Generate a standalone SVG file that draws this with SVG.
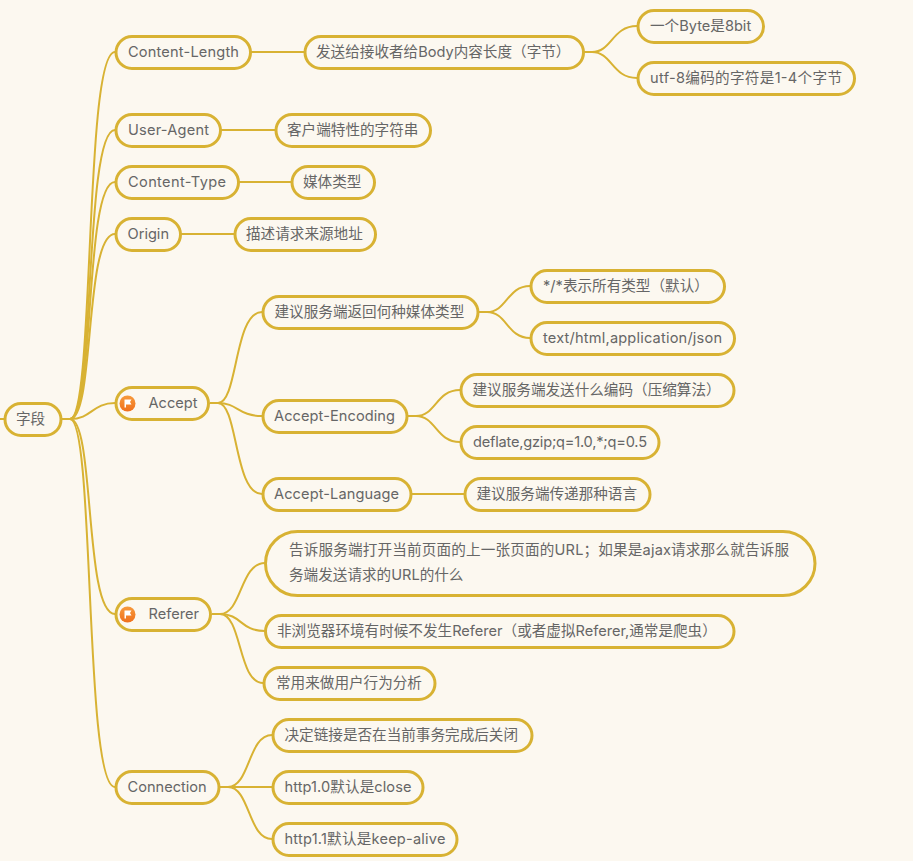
<svg xmlns="http://www.w3.org/2000/svg" width="913" height="861" viewBox="0 0 913 861">
<defs>
<linearGradient id="flag" x1="0" y1="0" x2="0" y2="1"><stop offset="0" stop-color="#f79a3c"/><stop offset="1" stop-color="#f0701c"/></linearGradient>
</defs>
<style>
.n{fill:#fcf8f0;stroke:#d8b233;stroke-width:3}
.c{fill:none;stroke:#d8b233;stroke-width:2}
text{font-family:"Inter","Noto Sans CJK SC",sans-serif;font-size:14.6px;fill:#666;dominant-baseline:central}
</style>
<rect width="913" height="861" fill="#fcf8f0"/>
<g id="connectors">
<path class="c" d="M0 419H4"/>
<path class="c" d="M62 419H70C95 419 84 52 115 52"/>
<path class="c" d="M62 419H70C95 419 84 130 115 130"/>
<path class="c" d="M62 419H70C95 419 84 182 115 182"/>
<path class="c" d="M62 419H70C95 419 84 234 115 234"/>
<path class="c" d="M62 419H70C92 419 92 403 115 403"/>
<path class="c" d="M62 419H70C95 419 84 614 115 614"/>
<path class="c" d="M62 419H70C95 419 84 787 115 787"/>
<path class="c" d="M251 52H304"/>
<path class="c" d="M584 52H592C612 52 612 26 637 26"/>
<path class="c" d="M584 52H592C612 52 612 78 637 78"/>
<path class="c" d="M221 130H275"/>
<path class="c" d="M239 182H291"/>
<path class="c" d="M181 234H234"/>
<path class="c" d="M210 403H218C238 403 234 312 262 312"/>
<path class="c" d="M210 403H218C238 403 238 416 262 416"/>
<path class="c" d="M210 403H218C238 403 234 494 262 494"/>
<path class="c" d="M479 312H487C507 312 507 286 530 286"/>
<path class="c" d="M479 312H487C507 312 507 338 530 338"/>
<path class="c" d="M408 416H416C436 416 436 390 460 390"/>
<path class="c" d="M408 416H416C436 416 436 442 460 442"/>
<path class="c" d="M412 494H464"/>
<path class="c" d="M212 614H220C242 614 240 563 265 563"/>
<path class="c" d="M212 614H220C242 614 240 631 265 631"/>
<path class="c" d="M212 614H220C242 614 238 683 263 683"/>
<path class="c" d="M220 787H228C250 787 248 735 272 735"/>
<path class="c" d="M220 787H272"/>
<path class="c" d="M220 787H228C250 787 248 839 272 839"/>
</g>
<g id="n0"><rect class="n" x="5" y="403.500" width="56" height="32" rx="16"/><text x="16" y="419">字段</text></g>
<g id="n1"><rect class="n" x="116" y="36.500" width="134.500" height="32" rx="16"/><text x="128" y="52" textLength="111">Content-Length</text></g>
<g id="n2"><rect class="n" x="305" y="36.500" width="278.500" height="32" rx="16"/><text x="316" y="52">发送给接收者给Body内容长度（字节）</text></g>
<g id="n3"><rect class="n" x="638" y="10.500" width="125.500" height="32" rx="16"/><text x="650" y="26">一个Byte是8bit</text></g>
<g id="n4"><rect class="n" x="638" y="62.500" width="216.500" height="32" rx="16"/><text x="650" y="78" textLength="192">utf-8编码的字符是1-4个字节</text></g>
<g id="n5"><rect class="n" x="116" y="114.500" width="104.500" height="32" rx="16"/><text x="128" y="130" textLength="81">User-Agent</text></g>
<g id="n6"><rect class="n" x="276" y="114.500" width="154.500" height="32" rx="16"/><text x="287" y="130">客户端特性的字符串</text></g>
<g id="n7"><rect class="n" x="116" y="166.500" width="122.500" height="32" rx="16"/><text x="128" y="182" textLength="98">Content-Type</text></g>
<g id="n8"><rect class="n" x="292" y="166.500" width="82.500" height="32" rx="16"/><text x="303" y="182">媒体类型</text></g>
<g id="n9"><rect class="n" x="116" y="218.500" width="64.500" height="32" rx="16"/><text x="127.500" y="234">Origin</text></g>
<g id="n10"><rect class="n" x="235" y="218.500" width="140.500" height="32" rx="16"/><text x="246" y="234">描述请求来源地址</text></g>
<g id="n11"><rect class="n" x="116" y="387.500" width="92.500" height="32" rx="16"/><circle cx="127.500" cy="403.500" r="8" fill="url(#flag)"/><path d="M124.500 399.500H131.500L130 402L131.500 404.500H126V407.500H124.500Z" fill="#fff"/><text x="148.500" y="403">Accept</text></g>
<g id="n12"><rect class="n" x="263" y="296.500" width="215" height="32" rx="16"/><text x="274.500" y="312">建议服务端返回何种媒体类型</text></g>
<g id="n13"><rect class="n" x="531" y="270.500" width="193.500" height="32" rx="16"/><text x="543" y="286">*/*表示所有类型（默认）</text></g>
<g id="n14"><rect class="n" x="531" y="322.500" width="203.500" height="32" rx="16"/><text x="543" y="338" textLength="179">text/html,application/json</text></g>
<g id="n15"><rect class="n" x="263" y="400.500" width="144" height="32" rx="16"/><text x="274" y="416" textLength="121">Accept-Encoding</text></g>
<g id="n16"><rect class="n" x="461" y="374.500" width="273" height="32" rx="16"/><text x="472.500" y="390">建议服务端发送什么编码（压缩算法）</text></g>
<g id="n17"><rect class="n" x="461" y="426.500" width="198" height="32" rx="16"/><text x="473" y="442" textLength="174">deflate,gzip;q=1.0,*;q=0.5</text></g>
<g id="n18"><rect class="n" x="263" y="478.500" width="148" height="32" rx="16"/><text x="274" y="494" textLength="125">Accept-Language</text></g>
<g id="n19"><rect class="n" x="465" y="478.500" width="185" height="32" rx="16"/><text x="476.500" y="494">建议服务端传递那种语言</text></g>
<g id="n20"><rect class="n" x="116" y="598.500" width="94.500" height="32" rx="16"/><circle cx="127.500" cy="614.500" r="8" fill="url(#flag)"/><path d="M124.500 610.500H131.500L130 613L131.500 615.500H126V618.500H124.500Z" fill="#fff"/><text x="148.500" y="614">Referer</text></g>
<g id="n21"><rect class="n" x="265.500" y="531.500" width="549.500" height="64" rx="32"/><text x="289" y="550" textLength="500">告诉服务端打开当前页面的上一张页面的URL；如果是ajax请求那么就告诉服</text><text x="289" y="575">务端发送请求的URL的什么</text></g>
<g id="n22"><rect class="n" x="265.500" y="615.500" width="468.500" height="32" rx="16"/><text x="277" y="631">非浏览器环境有时候不发生Referer（或者虚拟Referer,通常是爬虫）</text></g>
<g id="n23"><rect class="n" x="264" y="667.500" width="171" height="32" rx="16"/><text x="276" y="683">常用来做用户行为分析</text></g>
<g id="n24"><rect class="n" x="116" y="771.500" width="103" height="32" rx="16"/><text x="127.500" y="787">Connection</text></g>
<g id="n25"><rect class="n" x="273" y="719.500" width="259" height="32" rx="16"/><text x="284.500" y="735">决定链接是否在当前事务完成后关闭</text></g>
<g id="n26"><rect class="n" x="273" y="771.500" width="150" height="32" rx="16"/><text x="284.500" y="787" textLength="127">http1.0默认是close</text></g>
<g id="n27"><rect class="n" x="273" y="823.500" width="184" height="32" rx="16"/><text x="284.500" y="839" textLength="161">http1.1默认是keep-alive</text></g>
</svg>
